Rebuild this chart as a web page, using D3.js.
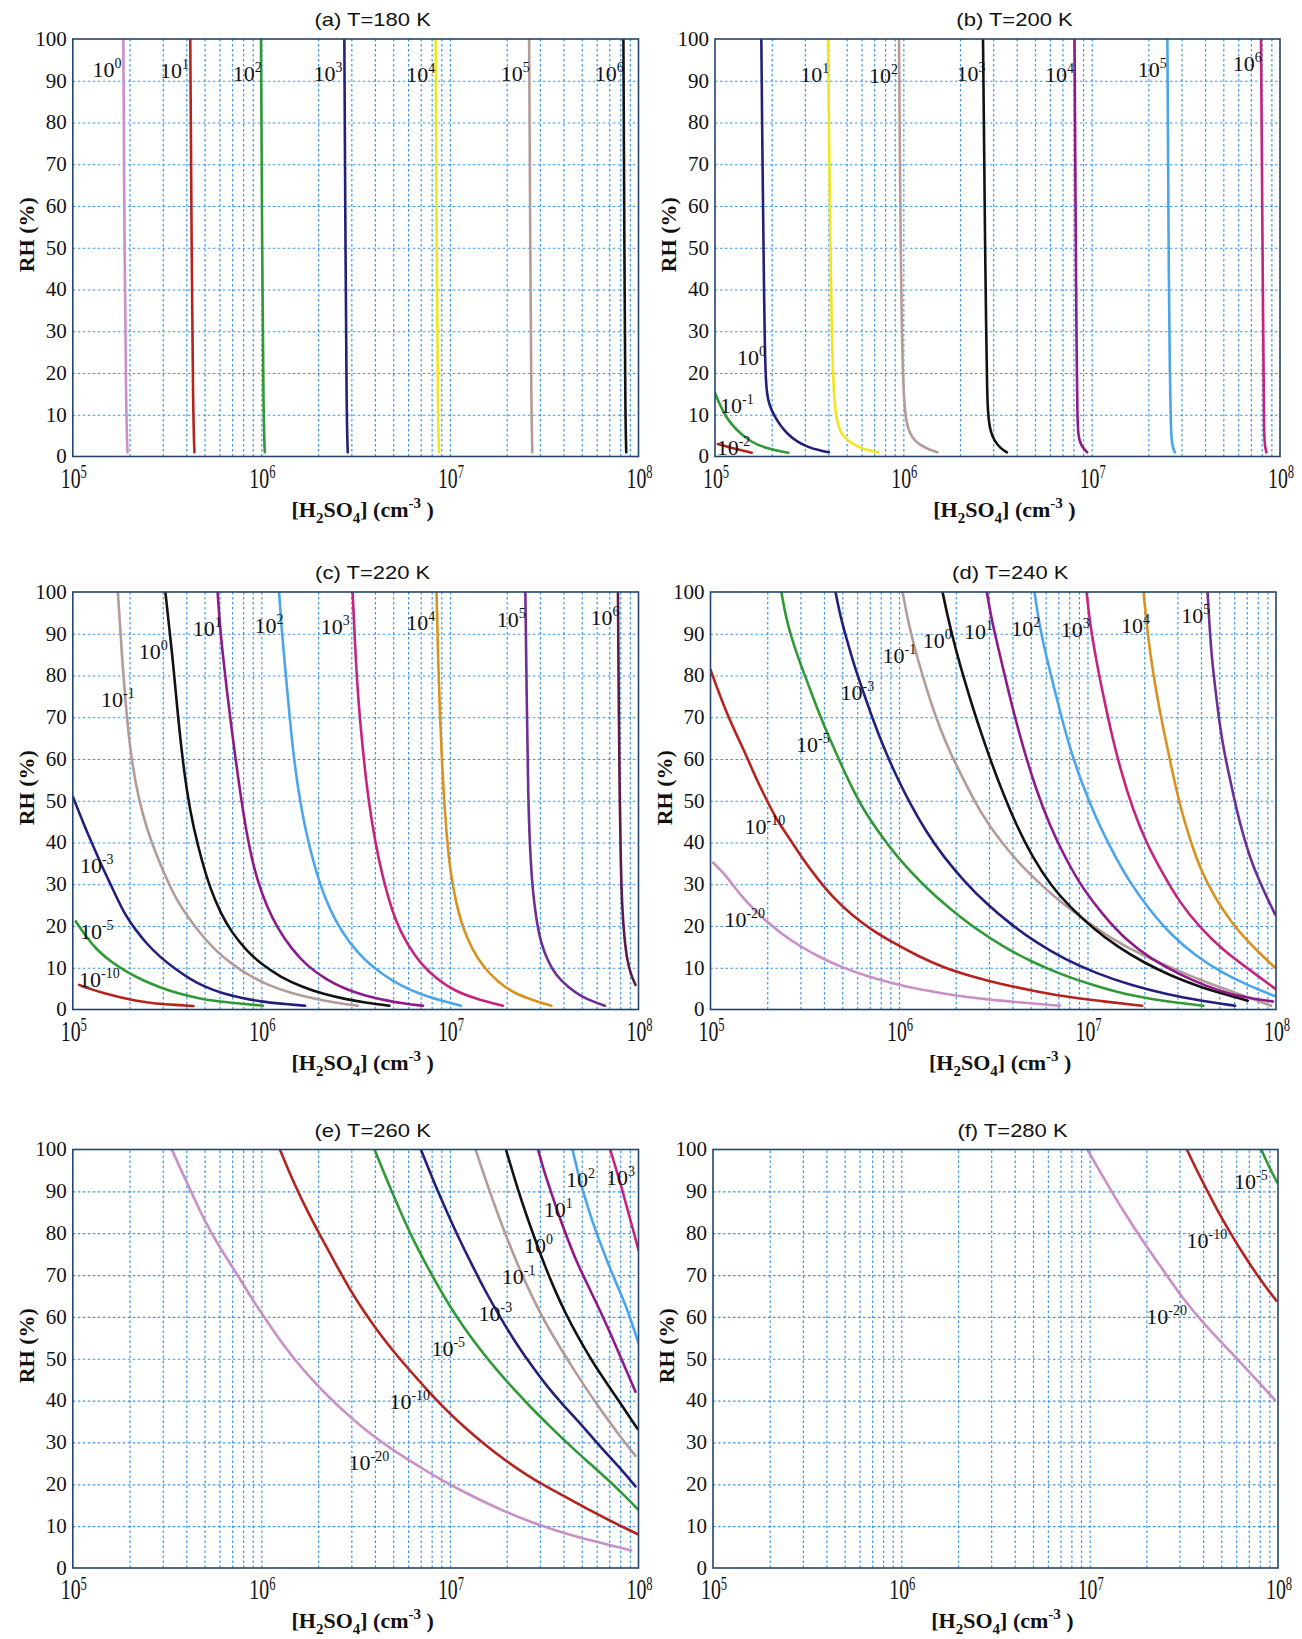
<!DOCTYPE html>
<html>
<head>
<meta charset="utf-8">
<script src="https://cdn.jsdelivr.net/npm/d3@7"></script>
<style>
  html, body { margin: 0; padding: 0; background: #fff; }
  svg { display: block; }
</style>
</head>
<body>
<div id="chart"></div>
<script>
// each curve point is [log10([H2SO4] / cm-3), RH %]; labels give the start of the "10^n" text
var yTicks = [0, 10, 20, 30, 40, 50, 60, 70, 80, 90, 100];
var xDecades = [5, 6, 7, 8];

// (a) T=180 K
var panelA_exps = [0, 1, 2, 3, 4, 5, 6];
var panelA_curves = [
  [[5.268,100],[5.274,50],[5.283,10],[5.29,1]],
  [[5.623,100],[5.63,50],[5.638,10],[5.645,1]],
  [[5.998,100],[6.004,50],[6.011,10],[6.018,1]],
  [[6.44,100],[6.446,50],[6.452,10],[6.458,1]],
  [[6.924,100],[6.93,50],[6.936,10],[6.942,1]],
  [[7.42,100],[7.426,50],[7.432,10],[7.437,1]],
  [[7.92,100],[7.925,50],[7.93,10],[7.935,1]]
];
var panelA_labels = [[5.105,90.8],[5.462,90.7],[5.848,90],[6.277,90],[6.768,89.7],[7.27,89.9],[7.768,89.9]];

// (b) T=200 K
var panelB_exps = [-2, -1, 0, 1, 2, 3, 4, 5, 6];
var panelB_curves = [
  [[5.015,3],[5.1,1.9],[5.195,0.9]],
  [[5.0,15.2],[5.025,12.5],[5.053,9.9],[5.09,7.6],[5.133,5.6],[5.175,4.1],[5.221,2.8],[5.3,1.7],[5.389,0.9]],
  [[5.246,100],[5.25,80],[5.255,60.8],[5.26,40],[5.264,28.5],[5.268,20],[5.275,15],[5.29,12],[5.318,9.5],[5.35,7.2],[5.385,5.4],[5.435,3.5],[5.497,2.2],[5.55,1.5],[5.605,1]],
  [[5.6,100],[5.607,70],[5.613,50],[5.62,30],[5.626,20],[5.636,12],[5.646,9],[5.663,6],[5.69,4.5],[5.716,3.5],[5.76,2.3],[5.81,1.5],[5.867,1]],
  [[5.977,100],[5.982,70],[5.986,50],[5.992,30],[6.0,16.3],[6.01,10],[6.024,6.6],[6.05,4.3],[6.08,3],[6.13,1.8],[6.181,1]],
  [[6.423,100],[6.43,70],[6.434,50],[6.44,30],[6.445,15],[6.45,9.9],[6.462,6],[6.483,3.8],[6.515,2],[6.55,1]],
  [[6.909,100],[6.913,70],[6.916,50],[6.92,25],[6.924,10],[6.928,5],[6.943,2.6],[6.976,1]],
  [[7.402,100],[7.406,70],[7.409,45],[7.415,20],[7.42,8],[7.425,2.6],[7.442,1]],
  [[7.899,100],[7.904,70],[7.908,45],[7.913,20],[7.915,8],[7.918,2.6],[7.928,1]]
];
var panelB_labels = [[5.009,0.4],[5.027,10.3],[5.117,22],[5.453,89.7],[5.818,89.5],[6.282,90],[6.752,89.8],[7.245,91],[7.749,92.3]];

// (c) T=220 K
var panelC_exps = [-10, -5, -3, -1, 0, 1, 2, 3, 4, 5, 6];
var panelC_curves = [
  [[5.033,5.9],[5.1,4.8],[5.172,3.8],[5.25,2.9],[5.328,2.1],[5.42,1.5],[5.507,1.2],[5.64,0.85]],
  [[5.016,21.1],[5.07,17.5],[5.127,14.3],[5.2,11.5],[5.283,9.1],[5.37,7],[5.462,5.3],[5.56,3.8],[5.663,2.7],[5.76,2],[5.864,1.5],[6.009,0.9]],
  [[5.0,51],[5.06,44.2],[5.1,40],[5.15,34.8],[5.2,30],[5.239,26.2],[5.28,22.5],[5.328,19.4],[5.39,15.8],[5.462,12.6],[5.54,9.8],[5.618,7.4],[5.7,5.4],[5.797,3.8],[5.9,2.7],[5.998,1.9],[6.1,1.4],[6.232,0.9]],
  [[5.239,100],[5.26,85],[5.283,71.5],[5.31,60],[5.35,50.2],[5.395,43],[5.44,37.4],[5.5,31],[5.551,26.2],[5.62,21.5],[5.685,17.7],[5.76,14],[5.842,10.9],[5.94,8],[6.042,5.7],[6.16,3.9],[6.288,2.5],[6.4,1.6],[6.511,0.9]],
  [[5.491,100],[5.51,92],[5.529,84.4],[5.55,74],[5.574,63],[5.605,52],[5.641,43.3],[5.685,35.5],[5.73,28.8],[5.785,23],[5.842,18.5],[5.92,14.2],[5.998,10.9],[6.1,7.8],[6.221,5.3],[6.33,3.7],[6.444,2.5],[6.56,1.6],[6.679,0.9]],
  [[5.768,100],[5.78,92],[5.797,84.4],[5.818,76],[5.842,67.3],[5.875,56],[5.908,45.9],[5.94,38],[5.975,31.4],[6.03,24.5],[6.087,19.4],[6.16,14.5],[6.243,10.4],[6.34,7.3],[6.444,4.9],[6.55,3.3],[6.667,2.1],[6.76,1.4],[6.857,0.9]],
  [[6.094,100],[6.106,92],[6.121,84.4],[6.142,74],[6.165,63],[6.195,52.5],[6.232,43.3],[6.28,34.5],[6.333,27.1],[6.395,21],[6.467,16],[6.55,11.7],[6.645,8.3],[6.74,5.7],[6.846,3.6],[6.95,2.2],[7.058,0.9]],
  [[6.484,100],[6.496,88],[6.511,75.8],[6.532,65],[6.556,54.4],[6.585,45],[6.623,35.6],[6.665,28],[6.712,21.1],[6.775,15.5],[6.846,10.9],[6.93,7.3],[7.025,4.4],[7.15,2.4],[7.281,0.9]],
  [[6.929,100],[6.936,86],[6.946,71.5],[6.957,60],[6.969,50.2],[6.984,41],[7.002,33.1],[7.03,26],[7.069,19.4],[7.12,14.2],[7.181,10],[7.255,6.6],[7.337,4],[7.44,2.2],[7.538,0.9]],
  [[7.4,100],[7.407,75],[7.415,50.2],[7.425,38],[7.438,28.8],[7.458,21.5],[7.482,16],[7.518,11.7],[7.56,8.3],[7.625,5.4],[7.694,3.2],[7.76,1.9],[7.821,0.9]],
  [[7.891,100],[7.895,75],[7.9,50.2],[7.906,35],[7.913,24.5],[7.925,17],[7.94,11.7],[7.96,8.3],[7.984,5.9]]
];
var panelC_labels = [[5.033,5.3],[5.038,16.8],[5.038,32.6],[5.15,72.4],[5.35,84],[5.636,89.5],[5.964,90.2],[6.315,90],[6.768,90.8],[7.248,91.6],[7.746,92]];

// (d) T=240 K
var panelD_exps = [-20, -10, -5, -3, -1, 0, 1, 2, 3, 4, 5];
var panelD_curves = [
  [[5.013,35.2],[5.074,32.6],[5.163,27.1],[5.23,24],[5.298,21.1],[5.38,18],[5.477,15.1],[5.58,12.5],[5.701,10],[5.83,8],[5.969,6.2],[6.13,4.6],[6.305,3.3],[6.47,2.4],[6.641,1.7],[6.854,0.9]],
  [[5.0,81.4],[5.035,77],[5.074,72.4],[5.13,66.5],[5.186,61.3],[5.24,55.5],[5.298,50.2],[5.35,45.5],[5.41,41.6],[5.49,36],[5.566,31.4],[5.65,26.8],[5.745,22.8],[5.85,19.2],[5.969,16],[6.1,12.8],[6.238,10],[6.38,8],[6.529,6.2],[6.7,4.6],[6.865,3.2],[7.07,2],[7.29,0.9]],
  [[5.376,100],[5.4,94],[5.432,88.6],[5.475,83],[5.522,77.5],[5.575,71],[5.634,64.7],[5.69,59],[5.745,53.6],[5.81,48],[5.88,43.3],[5.965,38],[6.059,33.1],[6.17,28],[6.283,23.7],[6.41,19.2],[6.551,15.1],[6.7,11.5],[6.865,8.3],[7.03,5.8],[7.2,3.6],[7.4,2],[7.615,0.9]],
  [[5.663,100],[5.69,94],[5.723,88.6],[5.765,82],[5.813,75.8],[5.865,69],[5.925,62.1],[5.99,55.5],[6.059,49.3],[6.145,42.5],[6.238,36.5],[6.35,30.5],[6.462,25.4],[6.59,20.5],[6.73,16],[6.88,12],[7.044,8.7],[7.23,5.8],[7.424,3.6],[7.6,2.1],[7.783,0.9]],
  [[6.019,100],[6.048,93],[6.081,86.9],[6.125,80],[6.171,73.2],[6.225,66.5],[6.283,60.4],[6.36,53.5],[6.439,46.7],[6.535,40.5],[6.641,34.8],[6.75,30],[6.865,25.4],[7.0,21],[7.133,16.8],[7.29,13],[7.447,10],[7.6,7],[7.76,4.4],[7.87,2.6],[7.973,0.9]],
  [[6.231,100],[6.255,94.8],[6.283,89.5],[6.315,84],[6.35,78.5],[6.395,71.8],[6.439,65.8],[6.495,58.5],[6.551,51.9],[6.625,43.9],[6.708,36.5],[6.805,29.7],[6.91,24.4],[7.03,19.4],[7.156,15.1],[7.3,11.2],[7.447,8],[7.58,5.7],[7.716,3.8],[7.85,2.1]],
  [[6.466,100],[6.485,95],[6.507,90.3],[6.54,84],[6.574,77.5],[6.615,70],[6.663,62.1],[6.725,53],[6.798,44.2],[6.885,36],[6.977,28.8],[7.085,22.5],[7.2,16.8],[7.34,12],[7.492,8.3],[7.63,5.6],[7.76,3.6],[7.88,2.6],[7.984,1.9]],
  [[6.719,100],[6.735,95],[6.753,90.3],[6.785,84],[6.82,77.5],[6.862,70],[6.91,62.1],[6.972,54],[7.044,45.9],[7.13,38],[7.223,30.5],[7.33,23.8],[7.447,17.7],[7.575,12.8],[7.716,8.7],[7.86,5.6],[7.995,3.2]],
  [[6.995,100],[7.007,95],[7.021,90.3],[7.053,82],[7.089,74.1],[7.13,65.5],[7.178,57],[7.24,48],[7.312,39.9],[7.4,32.5],[7.492,25.4],[7.6,19.5],[7.716,14.3],[7.86,9.5],[7.995,5]],
  [[7.297,100],[7.315,92],[7.335,84.4],[7.365,76],[7.402,67.3],[7.445,58],[7.492,48.5],[7.545,40.5],[7.603,33.1],[7.68,26.5],[7.76,21.1],[7.83,17.3],[7.895,14.3],[7.995,10]],
  [[7.637,100],[7.647,92],[7.659,84.4],[7.68,76],[7.704,67.3],[7.73,60.5],[7.76,54.4],[7.79,48],[7.827,41.6],[7.865,36],[7.906,31.4],[7.95,27],[7.995,22.8]]
];
var panelD_labels = [[5.074,19.7],[5.181,42],[5.454,61.7],[5.69,74.1],[5.913,83],[6.126,86.5],[6.345,88.8],[6.596,89.5],[6.858,89.3],[7.178,90.2],[7.498,92.5]];

// (e) T=260 K
var panelE_exps = [-20, -10, -5, -3, -1, 0, 1, 2, 3];
var panelE_curves = [
  [[5.525,100],[5.57,95.5],[5.618,90.9],[5.672,85.5],[5.73,80.4],[5.795,75.5],[5.864,70.7],[5.93,65.8],[5.998,61],[6.085,55.3],[6.176,49.8],[6.265,45.2],[6.355,40.9],[6.465,36.3],[6.578,32],[6.71,27.8],[6.846,24],[6.955,21],[7.069,18.3],[7.18,15.8],[7.292,13.5],[7.42,11.1],[7.56,9],[7.67,7.5],[7.783,6.2],[7.962,4.2]],
  [[6.098,100],[6.135,96],[6.176,91.7],[6.24,85.6],[6.31,79.6],[6.39,73],[6.467,66.7],[6.545,61.2],[6.623,56.2],[6.71,51.2],[6.801,46.5],[6.89,42],[6.98,37.7],[7.08,33.5],[7.181,29.6],[7.29,25.8],[7.404,22.3],[7.515,19.3],[7.627,16.7],[7.74,13.8],[7.85,11.3],[7.93,9.5],[8.0,8]],
  [[6.6,100],[6.645,95],[6.69,90.1],[6.745,84.4],[6.801,78.8],[6.868,73],[6.935,67.5],[7.0,62.5],[7.069,57.8],[7.158,52.3],[7.248,47.3],[7.337,42.8],[7.426,38.5],[7.527,34],[7.627,29.6],[7.728,25.5],[7.828,21.5],[7.915,17.8],[8.0,13.9]],
  [[6.846,100],[6.89,95],[6.935,90.1],[6.99,84.5],[7.047,78.8],[7.114,72.7],[7.181,66.7],[7.259,60.5],[7.337,54.6],[7.426,48.8],[7.516,43.3],[7.605,38.7],[7.694,34.4],[7.772,30.3],[7.85,26.4],[7.92,23],[7.984,19.5]],
  [[7.136,100],[7.17,95.4],[7.203,91],[7.248,85.3],[7.292,80],[7.348,73.7],[7.404,67.9],[7.46,62.6],[7.516,57.8],[7.583,52.8],[7.65,47.9],[7.716,43.3],[7.783,38.9],[7.84,35.3],[7.895,31.9],[7.94,29.3],[7.984,26.8]],
  [[7.297,100],[7.328,95.3],[7.359,90.7],[7.404,84.5],[7.449,78.8],[7.505,72],[7.56,66],[7.616,60.6],[7.672,55.8],[7.728,51.4],[7.783,47.4],[7.84,43.6],[7.895,40],[7.945,36.6],[7.996,33.2]],
  [[7.467,100],[7.49,96.3],[7.516,92.5],[7.55,88],[7.583,83.6],[7.627,78.3],[7.672,73.1],[7.728,67.9],[7.783,62.7],[7.84,57.2],[7.895,51.4],[7.94,46.8],[7.984,42.1]],
  [[7.65,100],[7.672,95.8],[7.694,91.7],[7.728,86.8],[7.761,82],[7.805,76.7],[7.85,71.5],[7.895,66.7],[7.94,61.9],[7.97,57.8],[8.0,53.8]],
  [[7.85,100],[7.872,96.7],[7.895,93.3],[7.918,89.6],[7.94,86],[7.97,81],[8.0,76]]
];
var panelE_labels = [[6.462,23.3],[6.679,38],[6.902,50.6],[7.152,59],[7.275,67.9],[7.393,75.2],[7.498,83.8],[7.616,91],[7.828,91.5]];

// (f) T=280 K
var panelF_exps = [-20, -10, -5];
var panelF_curves = [
  [[6.988,100],[7.033,96.4],[7.077,93],[7.133,88.7],[7.189,84.6],[7.245,80.7],[7.301,76.9],[7.357,73.3],[7.413,69.7],[7.47,66],[7.525,62.8],[7.58,59.8],[7.637,56.9],[7.693,54.2],[7.749,51.6],[7.805,48.9],[7.861,46.2],[7.92,43.3],[7.984,40.1]],
  [[7.516,100],[7.554,96.4],[7.592,93],[7.637,89],[7.682,85.2],[7.727,81.6],[7.772,78.2],[7.816,75],[7.861,71.9],[7.895,69.7],[7.928,67.6],[7.96,65.7],[7.991,63.9]],
  [[7.911,100],[7.931,98],[7.951,96.1],[7.974,94],[7.996,92.1]]
];
var panelF_labels = [[7.301,58.2],[7.514,76.4],[7.767,90.5]];

// line colours
var palette = {
  pink: "#c98fc6", red: "#b5231f", green: "#2f9a35", navy: "#24207a",
  yellow: "#f2e51c", rosy: "#b59b98", black: "#121212", purple: "#8e1a8a",
  lightblue: "#4aa5ea", magenta: "#c4237e", orange: "#d8921f",
  violet: "#6c2f92", maroon: "#5b1b44"
};
var panelA_colors = ["pink","red","green","navy","yellow","rosy","black"];
var panelB_colors = ["red","green","navy","yellow","rosy","black","purple","lightblue","magenta"];
var panelC_colors = ["red","green","navy","rosy","black","purple","lightblue","magenta","orange","violet","maroon"];
var panelD_colors = ["pink","red","green","navy","rosy","black","purple","lightblue","magenta","orange","violet"];
var panelE_colors = ["pink","red","green","navy","rosy","black","purple","lightblue","magenta"];
var panelF_colors = ["pink","red","green"];

var panels = [
  {title:"(a) T=180 K", box:[72.8,39,638.5,456.5], exps:panelA_exps, curves:panelA_curves, labels:panelA_labels, colors:panelA_colors},
  {title:"(b) T=200 K", box:[715,39,1280,456.5], exps:panelB_exps, curves:panelB_curves, labels:panelB_labels, colors:panelB_colors},
  {title:"(c) T=220 K", box:[72.8,592,638.5,1009.5], exps:panelC_exps, curves:panelC_curves, labels:panelC_labels, colors:panelC_colors},
  {title:"(d) T=240 K", box:[710.5,592,1276,1009.5], exps:panelD_exps, curves:panelD_curves, labels:panelD_labels, colors:panelD_colors},
  {title:"(e) T=260 K", box:[72.8,1149.5,638.5,1568], exps:panelE_exps, curves:panelE_curves, labels:panelE_labels, colors:panelE_colors},
  {title:"(f) T=280 K", box:[713,1149.5,1278,1568], exps:panelF_exps, curves:panelF_curves, labels:panelF_labels, colors:panelF_colors}
];

var SERIF = "'Liberation Serif', 'Times New Roman', serif";
var SANS = "'Liberation Sans', Arial, sans-serif";
var GRID = "#3b95e6";

var svg = d3.select("#chart").append("svg")
  .attr("width", 1302)
  .attr("height", 1639);
svg.append("rect").attr("width", 1302).attr("height", 1639).attr("fill", "#fff");

// minor + major grid positions along x
var gridX = [];
xDecades.slice(0, 3).forEach(function(d){
  for (var k = 1; k <= 9; k++) {
    if (k === 1 && d === 5) continue;
    gridX.push(k * Math.pow(10, d));
  }
});

panels.forEach(function(p, pi){
  var L = p.box[0], T = p.box[1], R = p.box[2], B = p.box[3];
  var x = d3.scaleLog().domain([1e5, 1e8]).range([L, R]);
  var y = d3.scaleLinear().domain([0, 100]).range([B, T]);
  var g = svg.append("g");

  g.append("clipPath").attr("id", "clip" + pi)
    .append("rect").attr("x", L).attr("y", T).attr("width", R - L).attr("height", B - T);

  // grid
  var gx = g.append("g")
    .attr("transform", "translate(0," + B + ")")
    .call(d3.axisBottom(x).tickValues(gridX).tickSize(-(B - T)).tickFormat(""));
  var gy = g.append("g")
    .attr("transform", "translate(" + L + ",0)")
    .call(d3.axisLeft(y).tickValues(yTicks.slice(1, -1)).tickSize(-(R - L)).tickFormat(""));
  [gx, gy].forEach(function(s){
    s.select(".domain").remove();
    s.selectAll(".tick line")
      .attr("stroke", GRID)
      .attr("stroke-width", 1.2)
      .attr("stroke-dasharray", "2.5,2.5");
  });

  // y tick labels
  var ya = g.append("g")
    .attr("transform", "translate(" + L + ",0)")
    .call(d3.axisLeft(y).tickValues(yTicks).tickSize(0).tickPadding(6));
  ya.select(".domain").remove();
  ya.selectAll("text")
    .attr("font-family", SERIF)
    .attr("font-size", 21)
    .attr("fill", "#111")
    .attr("dy", "0.3em");

  // x tick labels 10^n (slightly tall glyphs as in the figure)
  xDecades.forEach(function(d){
    var t = g.append("text")
      .attr("transform", "translate(" + (x(Math.pow(10, d)) - 12) + "," + (B + 31) + ") scale(0.9,1.3)")
      .attr("font-family", SERIF)
      .attr("font-size", 22)
      .attr("fill", "#111");
    t.append("tspan").text("10");
    t.append("tspan").attr("font-size", 14).attr("dy", -7).text(d);
  });

  // curves
  var line = d3.line()
    .x(function(d){ return x(Math.pow(10, d[0])); })
    .y(function(d){ return y(d[1]); })
    .curve(d3.curveBasis);
  g.append("g").attr("clip-path", "url(#clip" + pi + ")")
    .selectAll("path")
    .data(p.curves)
    .join("path")
    .attr("d", line)
    .attr("fill", "none")
    .attr("stroke", function(d, i){ return palette[p.colors[i]]; })
    .attr("stroke-width", 2.6)
    .attr("stroke-linejoin", "round")
    .attr("stroke-linecap", "round");

  // frame
  g.append("rect")
    .attr("x", L).attr("y", T).attr("width", R - L).attr("height", B - T)
    .attr("fill", "none")
    .attr("stroke", "#23456b")
    .attr("stroke-width", 1.6);

  // contour labels
  p.labels.forEach(function(lb, i){
    var t = g.append("text")
      .attr("x", x(Math.pow(10, lb[0])))
      .attr("y", y(lb[1]))
      .attr("font-family", SERIF)
      .attr("font-size", 22)
      .attr("fill", "#111");
    t.append("tspan").text("10");
    t.append("tspan").attr("font-size", 14).attr("dy", -9).text(String(p.exps[i]));
  });

  // panel title
  g.append("text")
    .attr("transform", "translate(" + ((L + R) / 2 + 17) + "," + (T - 13) + ") scale(1.1,0.95)")
    .attr("text-anchor", "middle")
    .attr("font-family", SANS)
    .attr("font-size", 20)
    .attr("fill", "#111")
    .text(p.title);

  // axis titles
  g.append("text")
    .attr("transform", "translate(" + (L - 39) + "," + ((T + B) / 2 - 13) + ") rotate(-90)")
    .attr("text-anchor", "middle")
    .attr("font-family", SERIF)
    .attr("font-weight", "bold")
    .attr("font-size", 22)
    .attr("fill", "#111")
    .text("RH (%)");

  var xt = g.append("text")
    .attr("x", (L + R) / 2 + 7)
    .attr("y", B + 60)
    .attr("text-anchor", "middle")
    .attr("font-family", SERIF)
    .attr("font-weight", "bold")
    .attr("font-size", 22)
    .attr("fill", "#111");
  xt.append("tspan").text("[H");
  xt.append("tspan").attr("font-size", 15).attr("dy", 6).text("2");
  xt.append("tspan").attr("dy", -6).text("SO");
  xt.append("tspan").attr("font-size", 15).attr("dy", 6).text("4");
  xt.append("tspan").attr("dy", -6).text("] (cm");
  xt.append("tspan").attr("font-size", 15).attr("dy", -9).text("-3");
  xt.append("tspan").attr("dy", 9).text(" )");
});
</script>
</body>
</html>
